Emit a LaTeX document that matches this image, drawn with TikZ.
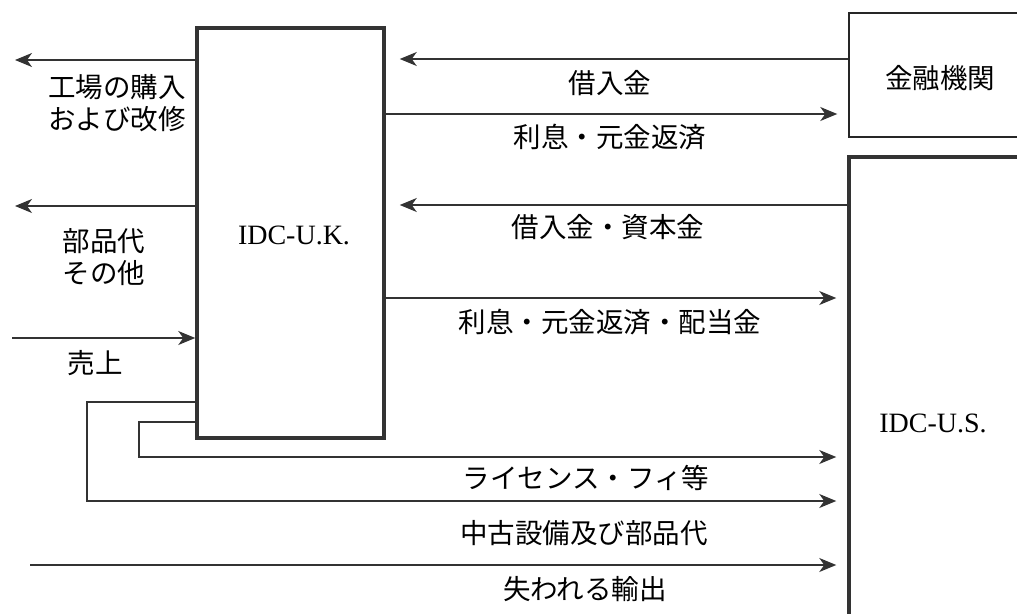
\documentclass[tikz,border=0pt]{standalone}
\usepackage{fontspec}
\setmainfont{Liberation Serif}
\newfontfamily\jp{Noto Sans CJK JP}[Scale=1]
\usetikzlibrary{arrows.meta}
\begin{document}
\begin{tikzpicture}[x=1pt,y=-1pt,
  thin line/.style={line width=1.3pt, black!80},
  arr/.style={thin line, -{Stealth[length=17pt,width=14pt,inset=5pt]}},
  bigbox/.style={draw=black!80, line width=3.5pt, fill=white, inner sep=0pt},
  smallbox/.style={draw=black!85, line width=1.5pt, fill=white, inner sep=0pt},
  lbl/.style={font=\jp\fontsize{27.5}{30}\selectfont, inner sep=0pt, align=center},
  en/.style={font=\fontsize{28}{30}\selectfont, inner sep=0pt}]
\useasboundingbox (0,0) rectangle (1017,613);
\begin{scope}
\clip (0,0) rectangle (1017,613);
% boxes
\node[bigbox, minimum width=187pt, minimum height=410pt] (uk) at (290.5,233) {};
\node[en] (uktext) at (294,235) {IDC-U.K.};
\node[smallbox, minimum width=190pt, minimum height=124pt] (fin) at (944,75) {};
\node[lbl] (fintext) at (940,78) {金融機関};
\node[bigbox, minimum width=200pt, minimum height=500pt] (us) at (949,407) {};
\node[en] (ustext) at (933,423) {IDC-U.S.};
% free ends
\coordinate (l1) at (15,60);
\coordinate (l2) at (15,206);
\coordinate (l3) at (12,338);
\coordinate (l4) at (30,565);
\coordinate (c1) at (139,422);
\coordinate (c2) at (139,457);
\coordinate (d1) at (87,402);
\coordinate (d2) at (87,501);
% left arrows
\draw[arr] (uk.west |- l1) -- (l1);
\draw[arr] (uk.west |- l2) -- (l2);
\draw[arr] (l3) -- (uk.west |- l3);
% finance
\draw[arr, shorten >=14pt] (fin.west |- 0,59) -- (uk.east |- 0,59);
\draw[arr, shorten >=11pt] (uk.east |- 0,114) -- (fin.west |- 0,114);
% US
\draw[arr, shorten >=14pt] (us.west |- 0,205) -- (uk.east |- 0,205);
\draw[arr, shorten >=11pt] (uk.east |- 0,298) -- (us.west |- 0,298);
\draw[arr, shorten >=11pt] (uk.west |- c1) -- (c1) -- (c2) -- (us.west |- c2);
\draw[arr, shorten >=11pt] (uk.west |- d1) -- (d1) -- (d2) -- (us.west |- d2);
\draw[arr, shorten >=11pt] (l4) -- (us.west |- l4);
% labels
\node[lbl] (t1) at (117,87) {工場の購入};
\node[lbl] (t2) at (117,119) {および改修};
\node[lbl] (t3) at (104,241) {部品代};
\node[lbl] (t4) at (104,273) {その他};
\node[lbl] (t5) at (95,363) {売上};
\node[lbl] (t6) at (610,83) {借入金};
\node[lbl] (t7) at (610,137) {利息・元金返済};
\node[lbl] (t8) at (608,227) {借入金・資本金};
\node[lbl] (t9) at (610,322) {利息・元金返済・配当金};
\node[lbl] (t10) at (586,478) {ライセンス・フィ等};
\node[lbl] (t11) at (584,533) {中古設備及び部品代};
\node[lbl] (t12) at (585,589) {失われる輸出};
\end{scope}
\end{tikzpicture}
\end{document}
